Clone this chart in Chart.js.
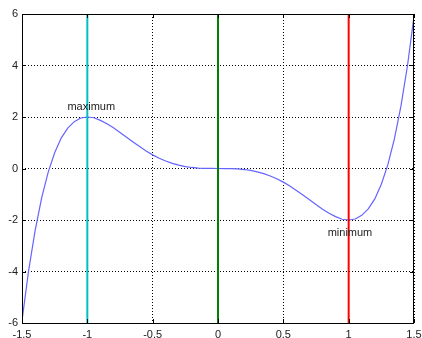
<!DOCTYPE html>
<html><head><meta charset="utf-8">
<script src="https://cdn.jsdelivr.net/npm/chart.js@4"></script>
<style>html,body{margin:0;padding:0;background:#fff}#w{width:422px;height:338px}</style>
</head><body><div id="w"><canvas id="c"></canvas></div>
<script>
const xValues = [-1.5,-1.45,-1.4,-1.35,-1.3,-1.25,-1.2,-1.15,-1.1,-1.05,-1.0,-0.95,-0.9,-0.85,-0.8,-0.75,-0.7,-0.65,-0.6,-0.55,-0.5,-0.45,-0.4,-0.35,-0.3,-0.25,-0.2,-0.15,-0.1,-0.05,0,
  0.05,0.1,0.15,0.2,0.25,0.3,0.35,0.4,0.45,0.5,0.55,0.6,0.65,0.7,0.75,0.8,0.85,0.9,0.95,1.0,1.05,1.1,1.15,1.2,1.25,1.3,1.35,1.4,1.45,1.5];
const yValues = [-5.91,-3.99,-2.42,-1.15,-0.15,0.61,1.18,1.57,1.82,1.96,2.0,1.97,1.87,1.74,1.58,1.40,1.21,1.03,0.85,0.68,0.53,0.40,0.29,0.20,0.13,0.075,0.04,0.017,0.005,0.001,0,
  -0.001,-0.005,-0.017,-0.04,-0.075,-0.13,-0.20,-0.29,-0.40,-0.53,-0.68,-0.85,-1.03,-1.21,-1.40,-1.58,-1.74,-1.87,-1.97,-2.0,-1.96,-1.82,-1.57,-1.18,-0.61,0.15,1.15,2.42,3.99,5.91];
const markerX = [-1, 0, 1];
const markerColors = ['#00bfbf', '#008000', '#ff0000'];
const yRange = [-6, 6];
const xRange = [-1.5, 1.5];
const xTicks = [-1.5,-1,-0.5,0,0.5,1,1.5];
const yTicks = [-6,-4,-2,0,2,4,6];
const labels = ['maximum', 'minimum'];
const labelX = [-0.97, 1.01];
const labelY = [2.4, -2.5];

const datasets = [{
  data: xValues.map((x,i)=>({x, y:yValues[i]})),
  borderColor: 'rgb(100,100,255)', borderWidth: 1.2, pointRadius: 0, tension: 0, order: 2, fill: false
}];
markerX.forEach((x,i)=>datasets.push({
  data: [{x, y:yRange[0]}, {x, y:yRange[1]}],
  borderColor: markerColors[i], borderWidth: 2, pointRadius: 0, order: 1, fill: false
}));

const frame = {
  id: 'frame',
  afterDatasetsDraw(chart) {
    const {ctx, chartArea: a, scales} = chart;
    ctx.save();
    ctx.strokeStyle = '#000'; ctx.lineWidth = 1;
    ctx.strokeRect(a.left + 0.5, a.top + 0.5, a.right - a.left - 1, a.bottom - a.top);
    ctx.beginPath();
    xTicks.forEach(v => { const px = Math.round(scales.x.getPixelForValue(v)) + 0.5;
      ctx.moveTo(px, a.bottom); ctx.lineTo(px, a.bottom - 4);
      ctx.moveTo(px, a.top); ctx.lineTo(px, a.top + 4); });
    yTicks.forEach(v => { const py = Math.round(scales.y.getPixelForValue(v)) + 0.5;
      ctx.moveTo(a.left, py); ctx.lineTo(a.left + 4, py);
      ctx.moveTo(a.right, py); ctx.lineTo(a.right - 4, py); });
    ctx.stroke();
    ctx.fillStyle = '#222'; ctx.font = '11px "Liberation Sans", Arial, sans-serif';
    ctx.textAlign = 'center'; ctx.textBaseline = 'middle';
    labels.forEach((t,i) => ctx.fillText(t, scales.x.getPixelForValue(labelX[i]), scales.y.getPixelForValue(labelY[i])));
    ctx.restore();
  }
};

new Chart(document.getElementById('c'), {
  type: 'line',
  data: { datasets },
  options: {
    responsive: true, maintainAspectRatio: false, animation: false,
    layout: { padding: { top: 14, right: 8, left: 0, bottom: 0 } },
    plugins: { legend: { display: false }, tooltip: { enabled: false } },
    scales: {
      x: {
        type: 'linear', min: xRange[0], max: xRange[1],
        afterBuildTicks: s => { s.ticks = xTicks.map(v => ({value: v})); },
        afterFit: s => { s.height = 15; s.paddingLeft = 0; s.paddingRight = 0; },
        grid: { color: '#000', lineWidth: 1, drawTicks: false, tickLength: 0 },
        border: { display: false, dash: [1, 2] },
        ticks: { padding: 5, maxRotation: 0, autoSkip: false, color: '#222', callback: v => String(v),
          font: { family: '"Liberation Sans", Arial, sans-serif', size: 11 } }
      },
      y: {
        type: 'linear', min: yRange[0], max: yRange[1],
        afterBuildTicks: s => { s.ticks = yTicks.map(v => ({value: v})); },
        afterFit: s => { s.width = 22; s.paddingTop = 0; s.paddingBottom = 0; },
        grid: { color: '#000', lineWidth: 1, drawTicks: false, tickLength: 0 },
        border: { display: false, dash: [1, 2] },
        ticks: { padding: 4, color: '#222', callback: v => String(v),
          font: { family: '"Liberation Sans", Arial, sans-serif', size: 11 } }
      }
    }
  },
  plugins: [frame]
});
</script></body></html>
